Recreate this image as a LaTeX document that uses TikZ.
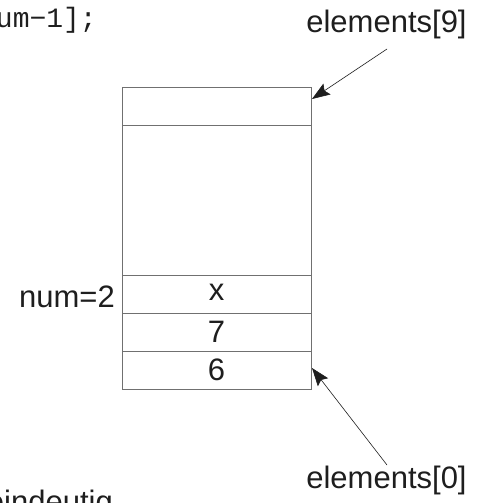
\documentclass[tikz,border=0pt]{standalone}
\usepackage{fontspec}
\setmainfont{Liberation Sans}
\setmonofont{Liberation Mono}
\usetikzlibrary{arrows.meta}
\definecolor{boxgray}{RGB}{112,112,112}
\definecolor{inkblack}{RGB}{30,30,30}
\begin{document}
\begin{tikzpicture}[x=1pt,y=-1pt,
  cell/.style={draw=boxgray, line width=0.9pt},
  lbl/.style={font=\fontsize{31}{36}\selectfont, inner sep=0pt, text=inkblack},
  codetxt/.style={font=\ttfamily\fontsize{28}{32}\selectfont, inner sep=0pt, text=inkblack},
  ptr/.style={draw=inkblack, line width=0.6pt, -{Stealth[length=18pt,width=13pt,inset=3pt]}}]
\useasboundingbox (0,0) rectangle (478,503);
% array box
\coordinate (tl) at (122,87);
\coordinate (br) at (311,389);
\draw[cell] (tl) rectangle (br);
\foreach \yy/\nm in {125/l1,275/l2,313/l3,351/l4}{
  \coordinate (\nm a) at (122,\yy);
  \coordinate (\nm b) at (311,\yy);
  \draw[cell] (\nm a) -- (\nm b);
}
% cell contents
\node[lbl] (vx) at (216.5,292) {x};
\node[lbl] (v7) at (216.5,331.5) {7};
\node[lbl] (v6) at (216.5,369.5) {6};
% labels
\node[lbl, anchor=base east] (num) at (115,307) {num=2};
\node[lbl, anchor=base] (e9) at (386.5,33) {elements[9]};
\node[lbl, anchor=base] (e0) at (386.5,488) {elements[0]};
\node[codetxt, anchor=base east] (code) at (97,28) {um−1];};
\node[lbl, anchor=base east] (ein) at (113,512) {eindeutig};
% pointers
\coordinate (t9) at (387,49);
\coordinate (h9) at (312,99);
\coordinate (t0) at (387,465);
\coordinate (h0) at (312,368);
\draw[ptr] (t9) -- (h9);
\draw[ptr] (t0) -- (h0);
\end{tikzpicture}
\end{document}
